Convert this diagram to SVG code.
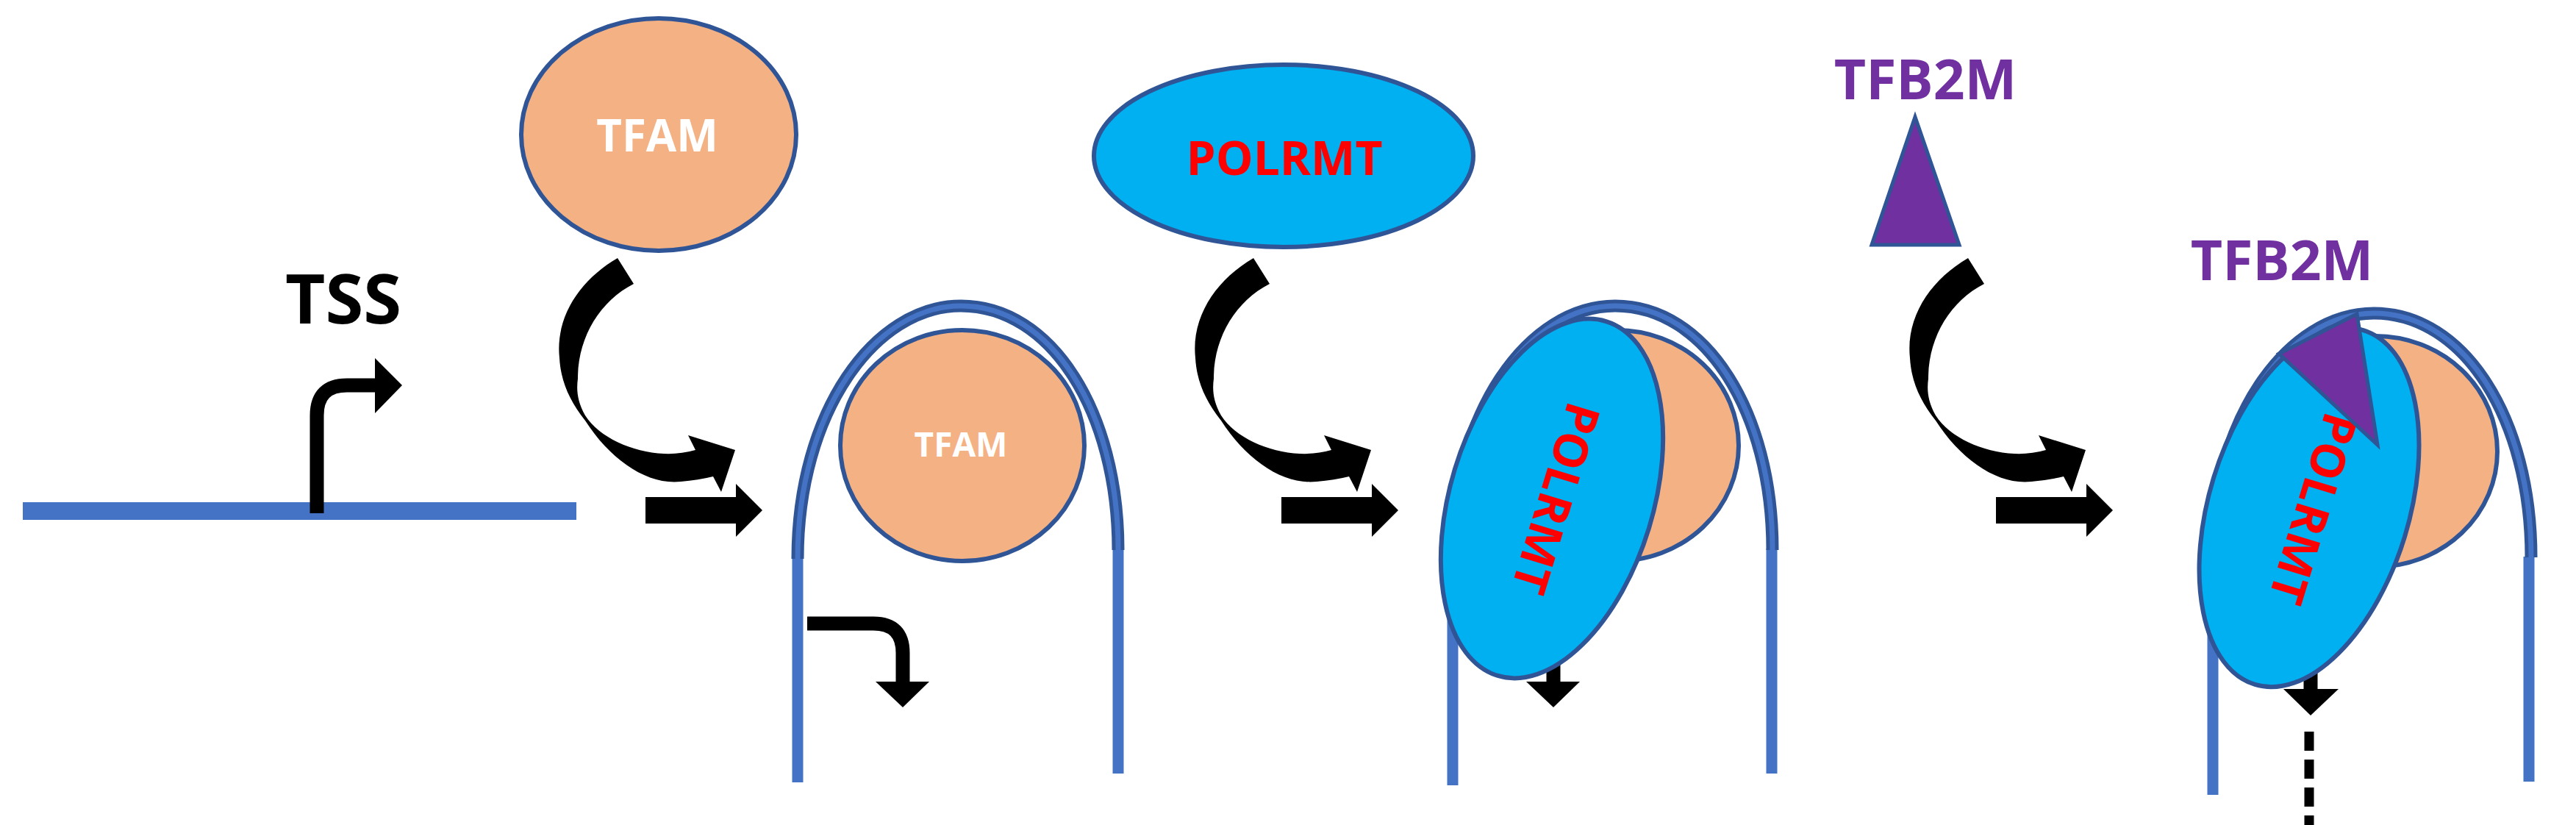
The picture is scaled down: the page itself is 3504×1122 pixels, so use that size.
<svg xmlns="http://www.w3.org/2000/svg" width="3504" height="1122" viewBox="0 0 3504 1122">
<style>
.dna{stroke:#4472C4;stroke-width:15;fill:none}
.archo{stroke:#2F5597;stroke-width:17;fill:none}
.archi{stroke:#4472C4;stroke-width:7;fill:none}
.tfam{fill:#F4B183;stroke:#2F5597;stroke-width:6}
.pol{fill:#00B0F0;stroke:#2F5597;stroke-width:6}
.tri{fill:#7030A0;stroke:#2F5597;stroke-width:5}
.t{font-family:"Open Sans","Liberation Sans",sans-serif;font-weight:bold;text-anchor:middle}
.blk{fill:#000}
.bend{stroke:#000;stroke-width:19;fill:none}
</style>
<defs>
<path id="curve" d="M840,351 C790,380 755,430 761,487 C763,520 775,545 796,572 C830,625 880,660 926,655 Q950,653 970,648 L981,669 L1000,612 L936,592 L946,612 Q925,618 903,617 C860,615 815,595 796,565 C785,545 784,530 786,515 C786,460 815,410 862,386 Z"/>
<path id="straight" d="M878,676 L1001,676 L1001,658 L1037,694 L1001,730 L1001,712 L878,712 Z"/>
<g id="arch">
<path class="archo" d="M1085,760 C1085,560 1190,416 1307,416 C1430,416 1521,560 1521,748"/>
<path class="archi" d="M1085,760 C1085,560 1190,416 1307,416 C1430,416 1521,560 1521,748"/>
</g>
<g id="bent">
<path class="bend" d="M1098,848 L1188,848 Q1228,848 1228,888 L1228,930"/>
<path class="blk" d="M1191,927 L1264,927 L1228,962 Z"/>
</g>
</defs>

<g id="dna-linear">
<line x1="31" y1="695" x2="784" y2="695" stroke="#4472C4" stroke-width="24"/>
</g>
<g id="tss">
<path class="bend" d="M431,698 L431,565 Q431,524 472,524 L512,524"/>
<path class="blk" d="M510,487 L547,524 L510,562 Z"/>
<text class="t" x="467" y="440" font-size="94" fill="#000">TSS</text>
</g>

<g id="tfam-free">
<ellipse class="tfam" cx="896" cy="183" rx="187" ry="158"/>
<text class="t" x="894" y="206" font-size="60" fill="#fff">TFAM</text>
</g>

<g id="connectors">
<use href="#curve"/>
<use href="#straight"/>
<use href="#curve" transform="translate(865,0)"/>
<use href="#straight" transform="translate(865,0)"/>
<use href="#curve" transform="translate(1837,0)"/>
<use href="#straight" transform="translate(1837,0)"/>
</g>

<g id="loop1">
<line class="dna" x1="1085" y1="758" x2="1085" y2="1064"/>
<line class="dna" x1="1521" y1="746" x2="1521" y2="1052"/>
<use href="#arch"/>
<ellipse class="tfam" cx="1309" cy="606" rx="166" ry="157"/>
<text class="t" x="1307" y="621" font-size="46" fill="#fff">TFAM</text>
<use href="#bent"/>
</g>

<g id="polrmt-free">
<ellipse class="pol" cx="1746" cy="212" rx="258" ry="124"/>
<text class="t" x="1747" y="238" font-size="64" fill="#FF0000">POLRMT</text>
</g>

<g id="loop2">
<line class="dna" x1="1976" y1="758" x2="1976" y2="1068"/>
<line class="dna" x1="2410" y1="746" x2="2410" y2="1052"/>
<use href="#arch" transform="translate(890,0)"/>
<ellipse class="tfam" cx="2199" cy="606" rx="166" ry="157"/>
<use href="#bent" transform="translate(885,0)"/>
<ellipse class="pol" cx="2111" cy="678" rx="138" ry="252" transform="rotate(17 2111 678)"/>
<text class="t" x="2111" y="676" font-size="64" fill="#FF0000" dominant-baseline="middle" transform="rotate(107 2111 676)">POLRMT</text>
</g>

<g id="tfb2m-free">
<polygon class="tri" points="2605,159 2546,333 2665,333"/>
<text class="t" x="2619" y="135" font-size="75" fill="#7030A0">TFB2M</text>
</g>

<g id="loop3">
<line class="dna" x1="3010" y1="758" x2="3010" y2="1081"/>
<line class="dna" x1="3440" y1="757" x2="3440" y2="1063"/>
<use href="#arch" transform="translate(1922,10)"/>
<ellipse class="tfam" cx="3231" cy="614" rx="166" ry="157"/>
<path class="bend" d="M3143,880 L3143,940"/>
<path class="blk" d="M3106,937 L3181,937 L3143,973 Z"/>
<line x1="3141" y1="995" x2="3141" y2="1122" stroke="#000" stroke-width="13" stroke-dasharray="26,12"/>
<ellipse class="pol" cx="3141" cy="690" rx="136" ry="252" transform="rotate(17 3141 690)"/>
<text class="t" x="3141" y="690" font-size="64" fill="#FF0000" dominant-baseline="middle" transform="rotate(107 3141 690)">POLRMT</text>
<polygon class="tri" points="3206,427 3100,481 3234,605"/>
<text class="t" x="3104" y="381" font-size="75" fill="#7030A0">TFB2M</text>
</g>
</svg>
